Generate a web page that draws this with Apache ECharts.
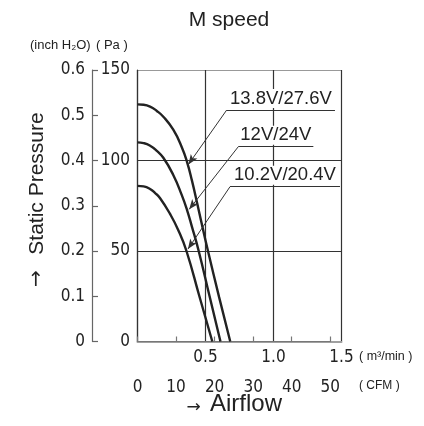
<!DOCTYPE html>
<html>
<head>
<meta charset="utf-8">
<script src="https://cdn.jsdelivr.net/npm/echarts@6/dist/echarts.min.js"></script>
<style>
html,body{margin:0;padding:0;background:#fff;}
#chart{width:424px;height:426px;}
</style>
</head>
<body>
<div id="chart"></div>
<script>
// ---- data (airflow m3/min, static pressure Pa) ----
var seriesNames = ['13.8V/27.6V', '12V/24V', '10.2V/20.4V'];
var curve138 = [[0,131],[0.045,130.8],[0.092,129.8],[0.14,127.5],[0.19,124.2],[0.263,117],[0.325,107.5],[0.365,99],[0.4,89],[0.44,76],[0.48,62.5],[0.52,49.5],[0.6,24.5],[0.682,0]];
var curve12 = [[0,110],[0.045,109.6],[0.09,108.3],[0.14,105.5],[0.19,101.5],[0.263,92],[0.325,81],[0.365,72.5],[0.4,63.5],[0.45,50],[0.53,25],[0.61,0]];
var curve102 = [[0,86],[0.045,85.7],[0.092,84.3],[0.13,82],[0.165,79.3],[0.239,70.5],[0.3,61.5],[0.36,50],[0.455,25],[0.55,0]];
// annotation anchors in data units: [underlineStartQ, underlineEndQ, underlineP, tipQ, tipP]
var labelAnchors = [[0.656,1.452,127.9,0.374,97.8],[0.741,1.293,107.6,0.38,73],[0.68,1.489,85.5,0.371,51.1]];
var paTicks = [0, 150, 50];      // min, max, interval
var inchTicks = [0, 0.6, 0.1];
var m3Ticks = [0, 1.5, 0.5];
var cfmTicks = [0, 50, 10];

var NUM_FONT = "'Liberation Sans Narrow','DejaVu Sans Condensed',sans-serif";
var TXT_FONT = "'Liberation Sans',sans-serif";
var chart = echarts.init(document.getElementById('chart'), null, {renderer:'canvas'});

var curves = [curve138, curve12, curve102];
var series = curves.map(function(c, i){
  var a = labelAnchors[i];
  return {
    type:'line', name: seriesNames[i], data:c, xAxisIndex:0, yAxisIndex:0,
    showSymbol:false, symbol:'none', smooth:0.5, animation:false,
    lineStyle:{color:'#222', width:2.4},
    markLine:{
      silent:true, animation:false,
      symbol:['none','none'],
      lineStyle:{type:'solid', color:'#333', width:1},
      data:[
        [{coord:[a[0],a[2]], symbol:'none', label:{show:true, position:'insideMiddleTop', formatter: seriesNames[i], color:'#222', fontSize:18.5, fontFamily:TXT_FONT, distance:2, backgroundColor:'#fff', padding:[0,1]}},
         {coord:[a[1],a[2]], symbol:'none'}],
        [{coord:[a[0],a[2]], symbol:'none', label:{show:false}},
         {coord:[a[3],a[4]], symbol:'arrow', symbolSize:[6,10]}]
      ]
    }
  };
});

var option = {
  animation:false,
  grid:[
    {left:137.5, top:70, width:204, height:271.5},
    {left:137.5, top:70, width:192.8, height:271.5}
  ],
  xAxis:[
    {type:'value', gridIndex:0, min:m3Ticks[0], max:m3Ticks[1], interval:m3Ticks[2], position:'bottom',
     axisLine:{show:true, lineStyle:{color:'#a0a0a0', width:2}},
     axisTick:{show:false},
     axisLabel:{margin:8, color:'#222', fontSize:17, fontFamily:NUM_FONT,
       formatter:function(v){return v===0?'':v.toFixed(1);}},
     splitLine:{show:true, lineStyle:{color:'#333', width:1.2}}},
    {type:'value', gridIndex:1, min:cfmTicks[0], max:cfmTicks[1], interval:cfmTicks[2], position:'bottom', offset:29.5,
     axisLine:{show:true, lineStyle:{color:'#777', width:1.2}},
     axisTick:{show:true, inside:true, length:5, lineStyle:{color:'#777', width:1.2}},
     axisLabel:{margin:8, color:'#222', fontSize:17, fontFamily:NUM_FONT},
     splitLine:{show:false}}
  ],
  yAxis:[
    {type:'value', gridIndex:0, min:paTicks[0], max:paTicks[1], interval:paTicks[2], position:'left',
     axisLine:{show:true, lineStyle:{color:'#333', width:1.2}},
     axisTick:{show:false},
     axisLabel:{margin:7.5, color:'#222', fontSize:17, fontFamily:NUM_FONT},
     splitLine:{show:true, lineStyle:{color:['#999','#333','#333','#999'], width:1.2}}},
    {type:'value', gridIndex:0, min:inchTicks[0], max:inchTicks[1], interval:inchTicks[2], position:'left', offset:45.5,
     axisLine:{show:true, lineStyle:{color:'#666', width:1.2}},
     axisTick:{show:true, inside:true, length:6, lineStyle:{color:'#666', width:1.2}},
     axisLabel:{margin:7, color:'#222', fontSize:17, fontFamily:NUM_FONT,
       formatter:function(v){return v===0?'0':v.toFixed(1);}},
     splitLine:{show:false}},
    {type:'value', gridIndex:1, min:0, max:1, show:false}
  ],
  graphic:[
    {type:'text', x:229, y:20.5, silent:true, style:{text:'M speed', align:'center', verticalAlign:'middle', fontSize:21, fontFamily:TXT_FONT, fill:'#222'}},
    {type:'text', x:30, y:45.5, silent:true, style:{text:'(inch H₂O)', align:'left', verticalAlign:'middle', fontSize:13, fontFamily:TXT_FONT, fill:'#222'}},
    {type:'text', x:96, y:45.5, silent:true, style:{text:'( Pa )', align:'left', verticalAlign:'middle', fontSize:13, fontFamily:TXT_FONT, fill:'#222'}},
    {type:'text', x:359, y:356.5, silent:true, style:{text:'( m³/min )', align:'left', verticalAlign:'middle', fontSize:12.5, fontFamily:TXT_FONT, fill:'#222'}},
    {type:'text', x:359, y:386, silent:true, style:{text:'( CFM )', align:'left', verticalAlign:'middle', fontSize:12, fontFamily:TXT_FONT, fill:'#222'}},
    {type:'text', x:193.5, y:408, silent:true, style:{text:'→', align:'center', verticalAlign:'middle', fontSize:17, fontFamily:"'DejaVu Sans',sans-serif", fill:'#222'}},
    {type:'text', x:210, y:404.5, silent:true, style:{text:'Airflow', align:'left', verticalAlign:'middle', fontSize:24, fontFamily:TXT_FONT, fill:'#222'}},
    {type:'text', x:37, y:278.5, rotation:Math.PI/2, silent:true, style:{text:'→', align:'center', verticalAlign:'middle', fontSize:20, fontFamily:"'DejaVu Sans',sans-serif", fill:'#222'}},
    {type:'text', x:37, y:183.5, rotation:Math.PI/2, silent:true, style:{text:'Static Pressure', align:'center', verticalAlign:'middle', fontSize:21, fontFamily:TXT_FONT, fill:'#222'}}
  ],
  series: series
};
chart.setOption(option);
</script>
</body>
</html>
